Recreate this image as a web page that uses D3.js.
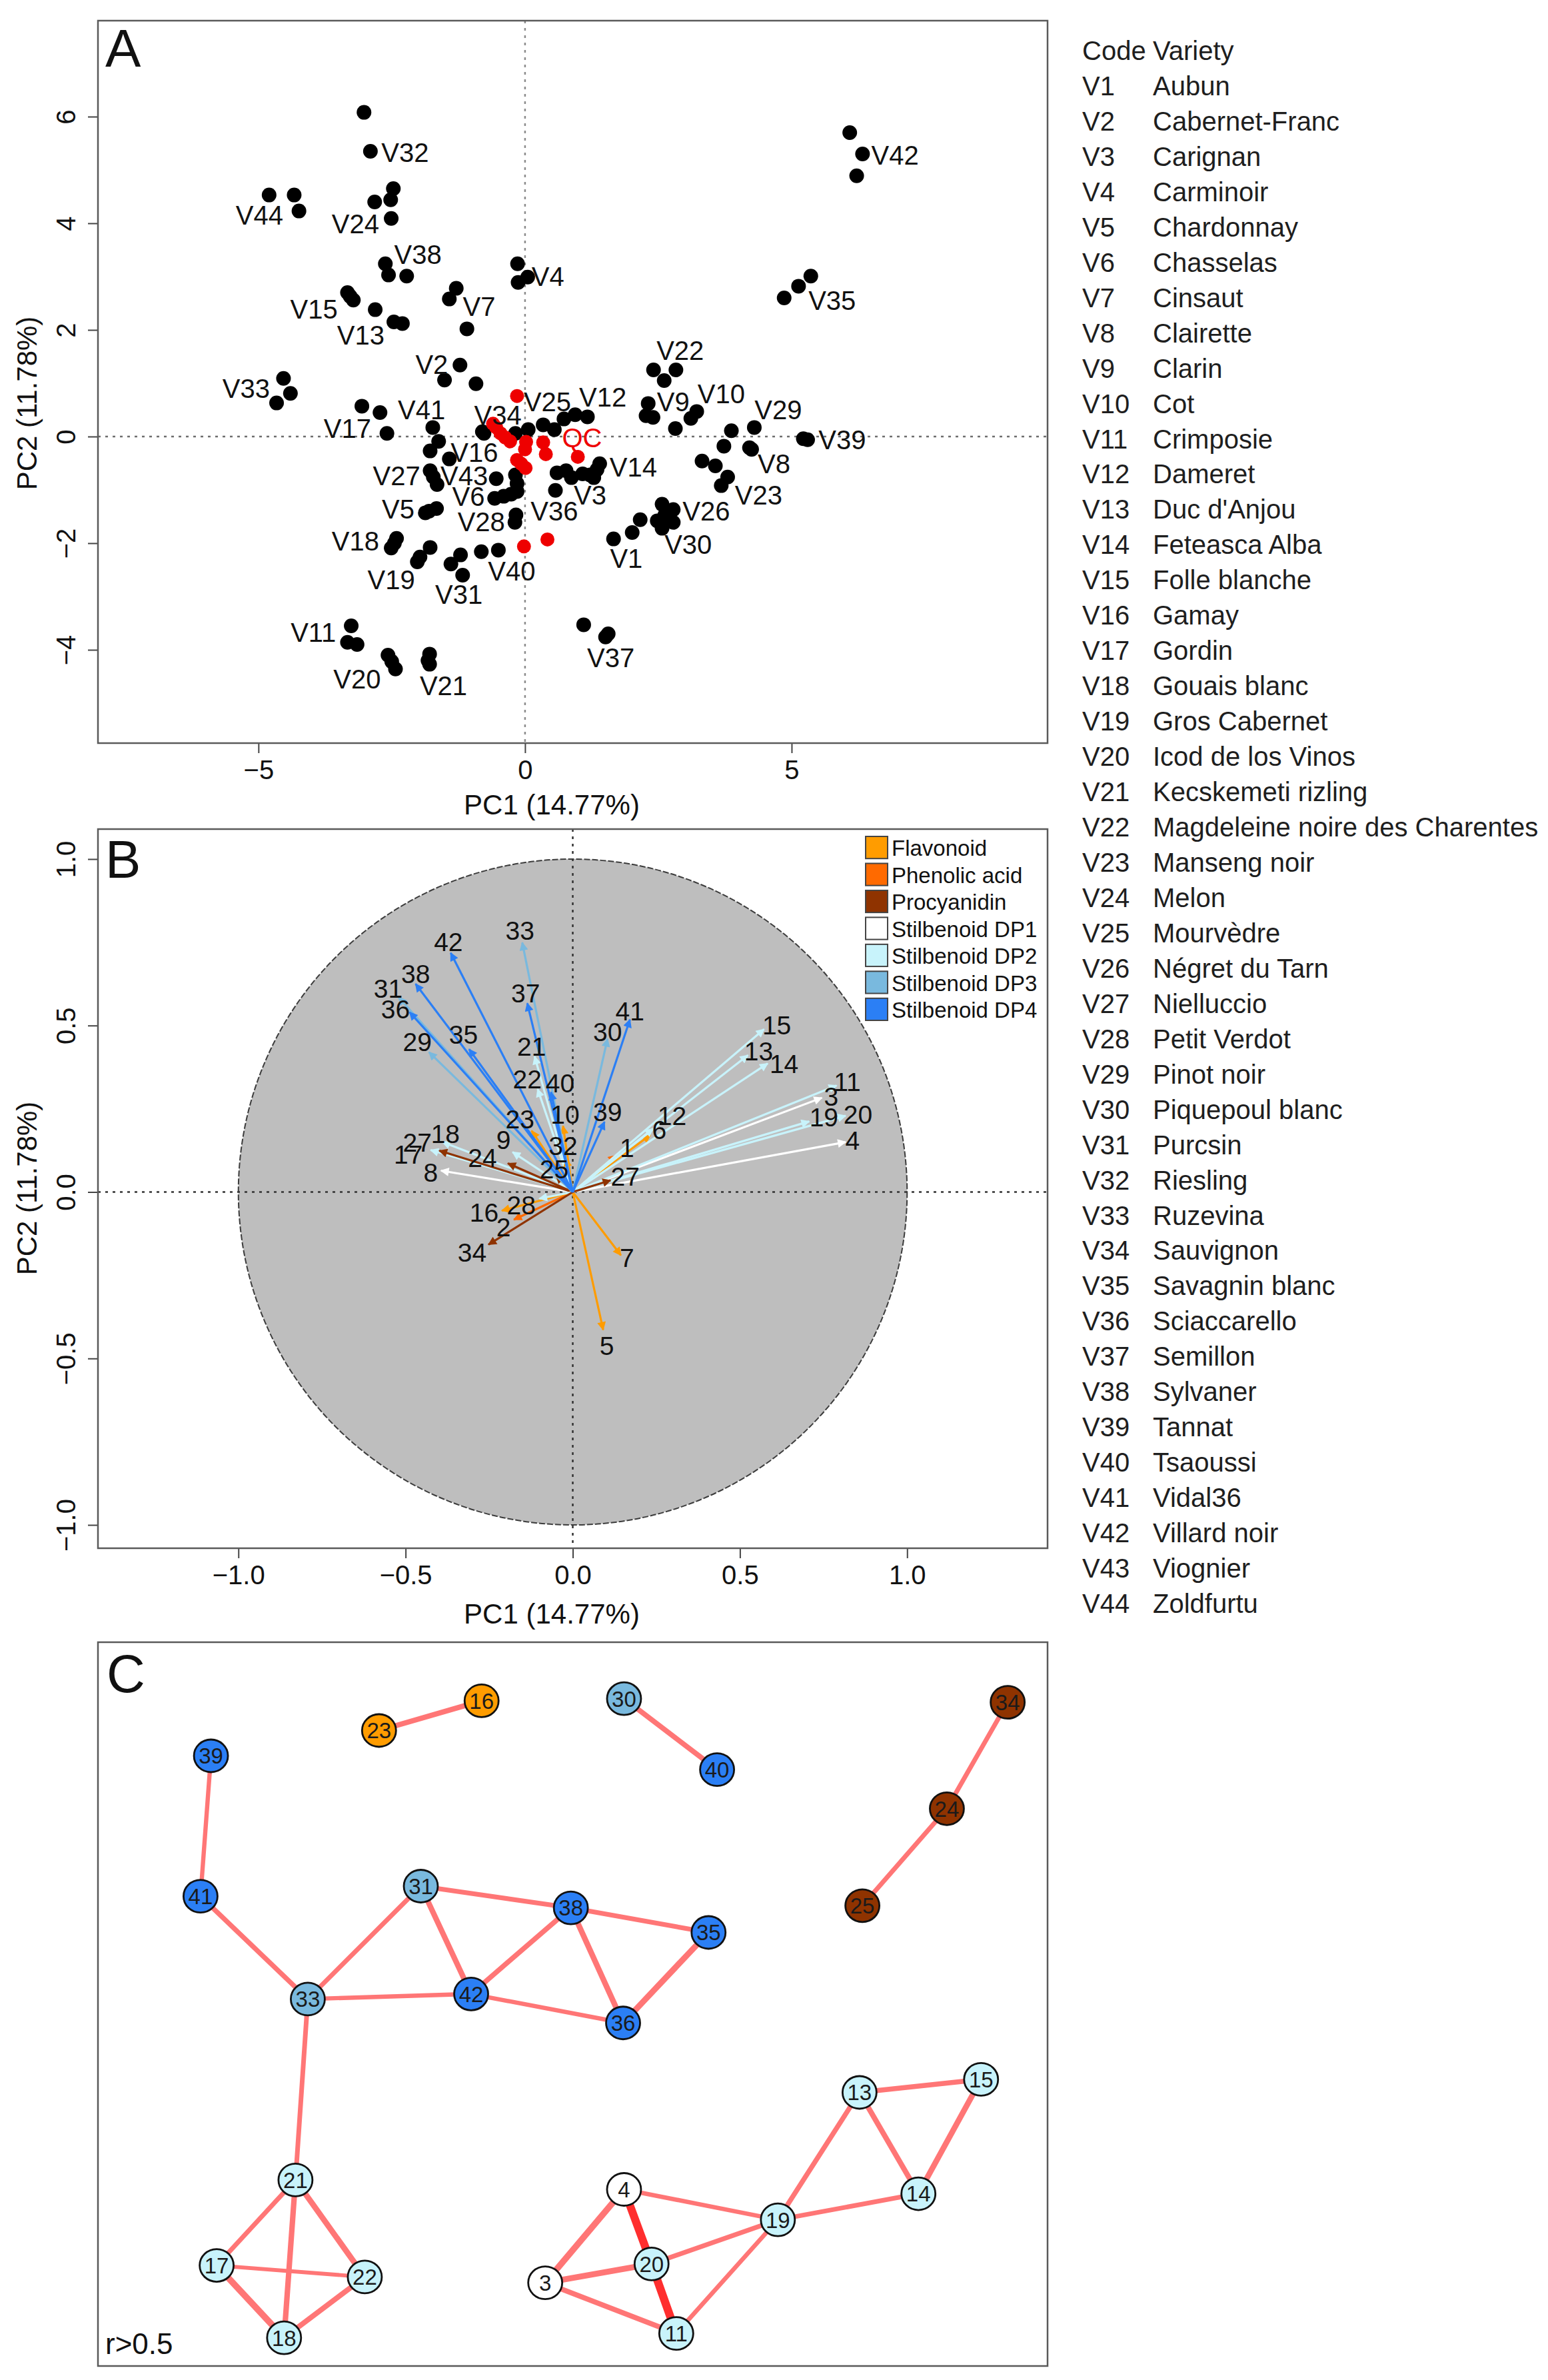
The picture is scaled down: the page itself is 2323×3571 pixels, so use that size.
<!DOCTYPE html>
<html>
<head>
<meta charset="utf-8">
<script src="https://cdn.jsdelivr.net/npm/d3@7"></script>
<style>
  body { margin: 0; background: #fff; }
  svg text { font-family: "Liberation Sans", Arial, Helvetica, sans-serif; }
</style>
</head>
<body>
<svg id="fig" width="2323" height="3571"></svg>
<script>
// ---------- Panel A : PCA scores ----------
const scoreCode = [
  "V1","V1","V1","V2","V2","V2","V3","V3","V3","V4","V4","V4","V5","V5","V5",
  "V6","V6","V6","V7","V7","V7","V8","V8","V8","V9","V9","V9","V10","V10","V10",
  "V11","V11","V11","V12","V12","V12","V13","V13","V13","V14","V14","V14",
  "V15","V15","V15","V16","V16","V16","V17","V17","V18","V18","V18",
  "V19","V19","V19","V20","V20","V20","V21","V21","V21","V22","V22","V22",
  "V23","V23","V23","V24","V24","V24","V25","V25","V25","V26","V26","V26",
  "V27","V27","V27","V28","V28","V28","V29","V29","V29","V30","V30","V30",
  "V31","V31","V31","V32","V32","V32","V33","V33","V33","V34","V34","V34",
  "V35","V35","V35","V36","V36","V36","V37","V37","V37","V38","V38","V38",
  "V39","V39","V40","V40","V41","V41","V42","V42","V42","V43","V43","V43",
  "V44","V44","V44"
];
const scorePC1 = [
  1.66,2.01,2.16, -1.22,-1.51,-0.92, 0.87,1.08,1.29, -0.14,0.05,-0.13, -1.87,-1.66,-1.80,
  -0.57,-0.40,-0.26, -1.29,-1.42,-1.09, 4.21,3.73,4.25, 2.31,2.27,2.40, 3.22,3.11,2.82,
  -3.26,-3.33,-3.15, 0.73,0.94,1.17, -2.81,-2.46,-2.30, 1.40,1.22,1.35,
  -3.33,-3.22,-3.28, -1.62,-1.78,-1.42, -3.06,-2.59, -2.41,-2.51,-2.45,
  -1.78,-1.97,-2.02, -2.57,-2.43,-2.50, -1.79,-1.79,-1.82, 2.41,2.83,2.61,
  3.32,3.57,3.80, -2.52,-2.82,-2.51, 0.34,0.55,0.06, 2.57,2.78,2.78,
  -1.78,-1.65,-1.72, -0.17,-0.19,-0.15, 4.30,3.87,3.68, 2.48,2.57,2.62,
  -1.21,-1.39,-1.17, -3.02,-2.90,-2.47, -4.53,-4.40,-4.66, -0.77,-0.80,-0.18,
  5.36,5.13,4.86, 0.57,0.60,0.77, 1.10,1.56,1.51, -2.62,-2.56,-2.22,
  5.22,5.30, -0.82,-0.50, -2.72,-1.73, 6.09,6.33,6.22, -0.54,-0.18,-0.15,
  -4.80,-4.33,-4.24
];
const scorePC2 = [
  -1.92,-1.80,-1.56, 1.34,1.06,0.99, -0.77,-0.70,-0.77, 3.24,2.99,2.89, -1.43,-1.35,-1.40,
  -1.16,-1.12,-1.08, 2.78,2.58,2.02, -0.21,-0.18,-0.24, 0.62,0.39,0.36, 0.47,0.34,0.15,
  -3.55,-3.86,-3.90, 0.33,0.41,0.37, 2.38,2.15,2.12, -0.51,-0.72,-0.62,
  2.70,2.56,2.63, -0.09,-0.27,-0.42, 0.57,0.06, -1.91,-2.09,-2.00,
  -2.08,-2.26,-2.35, -4.10,-4.36,-4.22, -4.08,-4.27,-4.20, 1.25,1.25,1.05,
  -0.46,-0.55,-0.76, 4.44,4.40,4.09, 0.22,0.13,0.13, -1.27,-1.37,-1.61,
  -0.64,-0.90,-0.76, -1.47,-1.61,-1.03, 0.17,0.11,-0.92, -1.58,-1.72,-1.48,
  -2.22,-2.39,-2.60, 6.08,5.35,4.65, 1.09,0.81,0.63, 0.06,0.09,0.06,
  3.01,2.82,2.60, -1.01,-0.68,-0.64, -3.53,-3.70,-3.76, 3.24,3.03,3.01,
  -0.04,-0.06, -2.16,-2.13, 0.45,0.17, 5.70,5.30,4.89, -0.79,-0.72,-0.88,
  4.53,4.53,4.23
];
// quality control injections (red)
const qcPC1 = [-0.15,-0.60,-0.54,-0.46,-0.37,-0.28,0.02,0.00,-0.15,-0.07,0.01,0.34,0.39,0.99,-0.02,0.42];
const qcPC2 = [0.76,0.24,0.17,0.06,-0.02,-0.09,-0.10,-0.24,-0.44,-0.51,-0.59,-0.11,-0.33,-0.38,-2.06,-1.93];

// text labels of the score plot (label centre, PC units)
const labelText = [
  "V1","V2","V3","V4","V5","V6","V7","V8","V9","V10","V11","V12","V13","V14","V15",
  "V16","V17","V18","V19","V20","V21","V22","V23","V24","V25","V26","V27","V28","V29",
  "V30","V31","V32","V33","V34","V35","V36","V37","V38","V39","V40","V41","V42","V43","V44"
];
const labelPC1 = [
  1.90,-1.75,1.22,0.43,-2.38,-1.06,-0.86,4.67,2.78,3.68,-3.97,1.46,-3.08,2.03,-3.96,
  -0.95,-3.33,-3.18,-2.51,-3.15,-1.53,2.91,4.38,-3.18,0.42,3.40,-2.41,-0.82,4.75,
  3.06,-1.24,-2.25,-5.23,-0.51,5.76,0.55,1.61,-2.01,5.95,-0.25,-1.94,6.94,-1.14,-4.98
];
const labelPC2 = [
  -2.28,1.36,-1.10,3.01,-1.36,-1.12,2.44,-0.51,0.66,0.81,-3.67,0.74,1.91,-0.57,2.39,
  -0.29,0.16,-1.96,-2.68,-4.55,-4.67,1.62,-1.10,3.99,0.66,-1.40,-0.73,-1.60,0.50,
  -2.02,-2.96,5.33,0.90,0.41,2.55,-1.40,-4.15,3.42,-0.06,-2.52,0.50,5.28,-0.73,4.16
];
const qcLabel = { text: "QC", pc1: 1.07, pc2: -0.02 };

// variety key
const varietyCode = labelText;
const varietyName = [
  "Aubun","Cabernet-Franc","Carignan","Carminoir","Chardonnay","Chasselas","Cinsaut",
  "Clairette","Clarin","Cot","Crimposie","Dameret","Duc d'Anjou","Feteasca Alba",
  "Folle blanche","Gamay","Gordin","Gouais blanc","Gros Cabernet","Icod de los Vinos",
  "Kecskemeti rizling","Magdeleine noire des Charentes","Manseng noir","Melon","Mourvèdre",
  "Négret du Tarn","Nielluccio","Petit Verdot","Pinot noir","Piquepoul blanc","Purcsin",
  "Riesling","Ruzevina","Sauvignon","Savagnin blanc","Sciaccarello","Semillon","Sylvaner",
  "Tannat","Tsaoussi","Vidal36","Villard noir","Viognier","Zoldfurtu"
];

// ---------- Panel B : loadings ----------
const classNames = ["Flavonoid","Phenolic acid","Procyanidin","Stilbenoid DP1","Stilbenoid DP2","Stilbenoid DP3","Stilbenoid DP4"];
const classColors = ["#ff9c00","#ff6a00","#8f3300","#ffffff","#c8f3fb","#79b9de","#2b7ff5"];

const loadingLabel = ["1","2","3","4","5","6","7","8","9","10","11","12","13","14","15","16","17","18","19","20","21",
  "22","23","24","25","27","27","28","29","30","31","32","33","34","35","36","37","38","39","40","41","42"];
const loadingClass = [1,1,3,3,0,0,0,3,4,0,4,4,4,4,4,0,4,4,4,4,4,
  4,0,2,2,2,2,4,5,5,5,0,5,2,6,6,6,6,6,6,6,6];
const loadingPC1 = [0.13,-0.176,0.745,0.816,0.091,0.232,0.144,-0.394,-0.18,-0.029,0.789,0.24,0.524,0.583,0.572,-0.212,-0.425,-0.39,0.707,0.816,-0.114,
  -0.105,-0.123,-0.194,-0.05,-0.399,0.113,-0.10,-0.430,0.104,-0.521,-0.02,-0.151,-0.252,-0.310,-0.488,-0.136,-0.470,0.095,-0.065,0.171,-0.365];
const loadingPC2 = [0.11,-0.083,0.283,0.150,-0.414,0.171,-0.190,0.064,0.12,0.198,0.320,0.19,0.411,0.386,0.489,-0.056,0.126,0.15,0.212,0.229,0.407,
  0.309,0.184,0.086,0.05,0.124,0.035,-0.02,0.420,0.460,0.585,0.10,0.749,-0.158,0.429,0.540,0.567,0.625,0.211,0.300,0.518,0.718];
const loadLabPC1 = [0.162,-0.207,0.773,0.837,0.102,0.259,0.162,-0.425,-0.207,-0.023,0.821,0.297,0.556,0.632,0.610,-0.265,-0.492,-0.381,0.751,0.853,-0.123,
  -0.136,-0.158,-0.270,-0.056,-0.465,0.157,-0.154,-0.465,0.104,-0.552,-0.029,-0.158,-0.301,-0.327,-0.530,-0.141,-0.470,0.104,-0.038,0.171,-0.372];
const loadLabPC2 = [0.134,-0.105,0.287,0.155,-0.462,0.188,-0.198,0.060,0.157,0.233,0.332,0.229,0.423,0.386,0.502,-0.060,0.113,0.175,0.225,0.233,0.438,
  0.340,0.220,0.104,0.069,0.149,0.047,-0.038,0.451,0.482,0.611,0.140,0.785,-0.181,0.473,0.549,0.598,0.656,0.242,0.327,0.544,0.752];

// ---------- Panel C : correlation network ----------
const nodeId = ["16","23","30","40","34","24","25","39","41","33","31","42","38","35","36",
  "21","17","22","18","13","15","14","19","4","20","3","11"];
const nodeClass = [0,0,5,6,2,2,2,6,6,5,5,6,6,6,6,4,4,4,4,4,4,4,4,3,4,3,4];
const nodeX = [40.4,29.6,55.4,65.2,95.8,89.4,80.5,11.9,10.8,22.1,34.0,39.3,49.8,64.3,55.3,
  20.8,12.5,28.1,19.6,80.2,93.0,86.4,71.6,55.4,58.3,47.1,60.9];
const nodeY = [8.1,12.2,7.8,17.6,8.3,23.0,36.4,15.7,35.1,49.3,33.7,48.6,36.7,40.1,52.6,
  74.3,86.1,87.7,96.1,62.2,60.4,76.2,79.8,75.6,85.9,88.5,95.5];
const edgeFrom = ["23","30","34","24","39","41","33","33","33","31","31","42","42","38","38","35",
  "21","21","21","17","17","18","13","13","15","13","14","4","20","11","4","4","3","3","20"];
const edgeTo = ["16","40","24","25","41","33","31","42","21","42","38","38","36","35","36","36",
  "17","18","22","22","18","22","15","14","14","19","19","19","19","19","3","20","20","11","11"];
const edgeR = [0.65,0.64,0.60,0.60,0.57,0.62,0.60,0.57,0.60,0.66,0.60,0.63,0.57,0.61,0.67,0.70,
  0.60,0.66,0.68,0.54,0.73,0.65,0.63,0.65,0.68,0.62,0.60,0.58,0.60,0.58,0.72,0.85,0.69,0.64,0.86];

// ================= drawing =================
const svg = d3.select("#fig");
const font = 40;

function box(x0, y0, x1, y1) {
  svg.append("rect")
    .attr("x", x0).attr("y", y0)
    .attr("width", x1 - x0).attr("height", y1 - y0)
    .attr("fill", "none").attr("stroke", "#5a5a5a").attr("stroke-width", 2.5);
}

function panelLetter(t, x, y) {
  svg.append("text").attr("x", x).attr("y", y)
    .attr("font-size", 80).attr("fill", "#111").text(t);
}

// R style axes: ticks outside, rotated y labels
function drawAxes(x, y, xTicks, yTicks, fmt) {
  const [xl, xr] = x.range();
  const [yb, yt] = y.range();
  const gx = svg.append("g").attr("transform", `translate(0,${yb})`)
    .call(d3.axisBottom(x).tickValues(xTicks).tickSize(15).tickFormat(fmt));
  gx.select(".domain").remove();
  gx.selectAll("line").attr("stroke", "#444").attr("stroke-width", 2);
  gx.selectAll("text").attr("y", 54).attr("dy", 0)
    .attr("font-size", font).attr("fill", "#111");

  const gy = svg.append("g").attr("transform", `translate(${xl},0)`)
    .call(d3.axisLeft(y).tickValues(yTicks).tickSize(15).tickFormat(fmt));
  gy.select(".domain").remove();
  gy.selectAll("line").attr("stroke", "#444").attr("stroke-width", 2);
  gy.selectAll("text")
    .attr("x", 0).attr("y", -34).attr("dy", 0)
    .attr("transform", "rotate(-90)")
    .attr("text-anchor", "middle")
    .attr("font-size", font).attr("fill", "#111");
}

function axisTitles(xc, yBase, yc) {
  svg.append("text").attr("x", xc).attr("y", yBase)
    .attr("text-anchor", "middle").attr("font-size", 42).attr("fill", "#111")
    .text("PC1 (14.77%)");
  svg.append("text")
    .attr("transform", `translate(55,${yc}) rotate(-90)`)
    .attr("text-anchor", "middle").attr("font-size", 42).attr("fill", "#111")
    .text("PC2 (11.78%)");
}

// ---------- Panel A ----------
const xA = d3.scaleLinear().domain([-8.01, 9.8]).range([147, 1572]);
const yA = d3.scaleLinear().domain([-5.75, 7.8]).range([1115, 31]);

const gA = svg.append("g");
gA.append("line")
  .attr("x1", xA(0)).attr("x2", xA(0)).attr("y1", yA.range()[1]).attr("y2", yA.range()[0])
  .attr("stroke", "#8c8c8c").attr("stroke-width", 2.5).attr("stroke-dasharray", "4,7");
gA.append("line")
  .attr("x1", xA.range()[0]).attr("x2", xA.range()[1]).attr("y1", yA(0)).attr("y2", yA(0))
  .attr("stroke", "#6e6e6e").attr("stroke-width", 2.5).attr("stroke-dasharray", "4,7");

gA.selectAll("circle.score")
  .data(scorePC1.map((d, i) => ({ x: d, y: scorePC2[i], code: scoreCode[i] })))
  .join("circle")
  .attr("class", "score")
  .attr("cx", (d) => xA(d.x)).attr("cy", (d) => yA(d.y))
  .attr("r", 11).attr("fill", "#000");

gA.selectAll("circle.qc")
  .data(qcPC1.map((d, i) => ({ x: d, y: qcPC2[i] })))
  .join("circle")
  .attr("class", "qc")
  .attr("cx", (d) => xA(d.x)).attr("cy", (d) => yA(d.y))
  .attr("r", 10.5).attr("fill", "#ee0000");

gA.selectAll("text.lab")
  .data(labelText)
  .join("text")
  .attr("class", "lab")
  .attr("x", (d, i) => xA(labelPC1[i]))
  .attr("y", (d, i) => yA(labelPC2[i]))
  .attr("dy", "0.36em")
  .attr("text-anchor", "middle")
  .attr("font-size", font).attr("fill", "#111")
  .text((d) => d);

gA.append("text")
  .attr("x", xA(qcLabel.pc1)).attr("y", yA(qcLabel.pc2)).attr("dy", "0.36em")
  .attr("text-anchor", "middle").attr("font-size", font).attr("fill", "#ee0000")
  .text(qcLabel.text);

drawAxes(xA, yA, [-5, 0, 5], [-4, -2, 0, 2, 4, 6], d3.format("d"));
box(147, 31, 1572, 1115);
panelLetter("A", 158, 100);
axisTitles(828, 1222, 605);

// variety key
const rowY = d3.scalePoint().domain(["Code", ...varietyCode]).range([90, 2420]);
const key = svg.append("g").attr("font-size", font).attr("fill", "#1e1e1e");
key.append("text").attr("x", 1624).attr("y", rowY("Code")).text("Code");
key.append("text").attr("x", 1730).attr("y", rowY("Code")).text("Variety");
key.selectAll("text.code").data(varietyCode).join("text")
  .attr("class", "code").attr("x", 1624).attr("y", (d) => rowY(d)).text((d) => d);
key.selectAll("text.name").data(varietyName).join("text")
  .attr("class", "name").attr("x", 1730).attr("y", (d, i) => rowY(varietyCode[i])).text((d) => d);

// ---------- Panel B ----------
const xB = d3.scaleLinear().domain([-1.42, 1.42]).range([147, 1572]);
const yB = d3.scaleLinear().domain([-1.07, 1.09]).range([2323, 1244]);
const gB = svg.append("g");

gB.append("ellipse")
  .attr("cx", xB(0)).attr("cy", yB(0))
  .attr("rx", xB(1) - xB(0)).attr("ry", yB(0) - yB(1))
  .attr("fill", "#bebebe").attr("stroke", "#3c3c3c").attr("stroke-width", 2)
  .attr("stroke-dasharray", "9,3");

gB.append("line")
  .attr("x1", xB(0)).attr("x2", xB(0)).attr("y1", yB.range()[1]).attr("y2", yB.range()[0])
  .attr("stroke", "#333").attr("stroke-width", 2.5).attr("stroke-dasharray", "4,7");
gB.append("line")
  .attr("x1", xB.range()[0]).attr("x2", xB.range()[1]).attr("y1", yB(0)).attr("y2", yB(0))
  .attr("stroke", "#333").attr("stroke-width", 2.5).attr("stroke-dasharray", "4,7");

const defs = svg.append("defs");
classColors.forEach((c, i) => {
  defs.append("marker")
    .attr("id", "head" + i)
    .attr("viewBox", "0 0 10 10").attr("refX", 9).attr("refY", 5)
    .attr("markerWidth", 18).attr("markerHeight", 13)
    .attr("markerUnits", "userSpaceOnUse").attr("orient", "auto")
    .append("path").attr("d", "M0,0L10,5L0,10z").attr("fill", c);
});

const loadings = loadingLabel.map((d, i) => ({
  id: d, cls: loadingClass[i], x: loadingPC1[i], y: loadingPC2[i],
  lx: loadLabPC1[i], ly: loadLabPC2[i]
}));

gB.selectAll("line.arrow")
  .data(loadings)
  .join("line")
  .attr("class", "arrow")
  .attr("x1", xB(0)).attr("y1", yB(0))
  .attr("x2", (d) => xB(d.x)).attr("y2", (d) => yB(d.y))
  .attr("stroke", (d) => classColors[d.cls]).attr("stroke-width", 3.2)
  .attr("marker-end", (d) => `url(#head${d.cls})`);

gB.selectAll("text.var")
  .data(loadings)
  .join("text")
  .attr("class", "var")
  .attr("x", (d) => xB(d.lx)).attr("y", (d) => yB(d.ly)).attr("dy", "0.36em")
  .attr("text-anchor", "middle").attr("font-size", 39).attr("fill", "#111")
  .text((d) => d.id);

// class legend
const legY = d3.scaleBand().domain(classNames).range([1255, 1531]).paddingInner(0.18);
const leg = gB.append("g");
leg.selectAll("rect").data(classNames).join("rect")
  .attr("x", 1299).attr("y", (d) => legY(d))
  .attr("width", 33).attr("height", legY.bandwidth())
  .attr("fill", (d, i) => classColors[i]).attr("stroke", "#444").attr("stroke-width", 2);
leg.selectAll("text").data(classNames).join("text")
  .attr("x", 1338).attr("y", (d) => legY(d) + legY.bandwidth() - 4)
  .attr("font-size", 33).attr("fill", "#111").text((d) => d);

drawAxes(xB, yB, [-1, -0.5, 0, 0.5, 1], [-1, -0.5, 0, 0.5, 1], d3.format(".1f"));
box(147, 1244, 1572, 2323);
panelLetter("B", 158, 1317);
axisTitles(828, 2436, 1783);

// ---------- Panel C ----------
const xC = d3.scaleLinear().domain([0, 100]).range([147, 1572]);
const yC = d3.scaleLinear().domain([0, 100]).range([2464, 3550]);
const gC = svg.append("g");
const nodePos = {};
nodeId.forEach((d, i) => { nodePos[d] = [xC(nodeX[i]), yC(nodeY[i])]; });

const edgeWidth = d3.scaleLinear().domain([0.5, 0.9]).range([5, 13]);
const edgeColor = d3.scaleThreshold().domain([0.8]).range(["#ff7676", "#ff2e2e"]);

gC.selectAll("line.edge")
  .data(edgeR)
  .join("line")
  .attr("class", "edge")
  .attr("x1", (d, i) => nodePos[edgeFrom[i]][0]).attr("y1", (d, i) => nodePos[edgeFrom[i]][1])
  .attr("x2", (d, i) => nodePos[edgeTo[i]][0]).attr("y2", (d, i) => nodePos[edgeTo[i]][1])
  .attr("stroke", (d) => edgeColor(d)).attr("stroke-width", (d) => edgeWidth(d))
  .attr("stroke-linecap", "round");

const nodes = gC.selectAll("g.node")
  .data(nodeId)
  .join("g")
  .attr("class", "node")
  .attr("transform", (d) => `translate(${nodePos[d][0]},${nodePos[d][1]})`);
nodes.append("ellipse")
  .attr("rx", 25.5).attr("ry", 24.5)
  .attr("fill", (d, i) => classColors[nodeClass[i]])
  .attr("stroke", "#111").attr("stroke-width", 2.8);
nodes.append("text")
  .attr("text-anchor", "middle").attr("dy", "0.36em")
  .attr("font-size", 33).attr("fill", "#1a1a1a")
  .text((d) => d);

box(147, 2464, 1572, 3550);
panelLetter("C", 160, 2539);
svg.append("text").attr("x", 158).attr("y", 3532)
  .attr("font-size", 44).attr("fill", "#111").text("r>0.5");
</script>
</body>
</html>
